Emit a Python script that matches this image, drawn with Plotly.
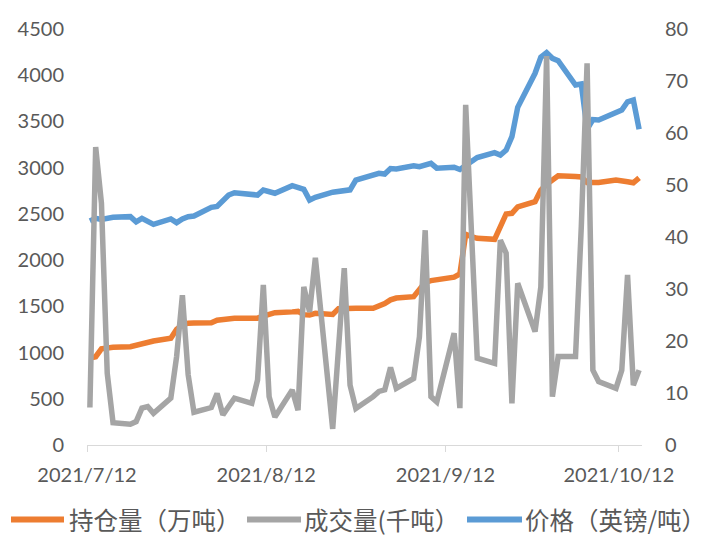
import pandas as pd
import plotly.graph_objects as go

dates = [
    "2021-07-12", "2021-07-13", "2021-07-14", "2021-07-15", "2021-07-16",
    "2021-07-19", "2021-07-20", "2021-07-21", "2021-07-22", "2021-07-23",
    "2021-07-26", "2021-07-27", "2021-07-28", "2021-07-29", "2021-07-30",
    "2021-08-02", "2021-08-03", "2021-08-04", "2021-08-05", "2021-08-06",
    "2021-08-09", "2021-08-10", "2021-08-11", "2021-08-12", "2021-08-13",
    "2021-08-16", "2021-08-17", "2021-08-18", "2021-08-19", "2021-08-20",
    "2021-08-23", "2021-08-24", "2021-08-25", "2021-08-26", "2021-08-27",
    "2021-08-30", "2021-08-31", "2021-09-01", "2021-09-02", "2021-09-03",
    "2021-09-06", "2021-09-07", "2021-09-08", "2021-09-09", "2021-09-10",
    "2021-09-13", "2021-09-14", "2021-09-15", "2021-09-16", "2021-09-17",
    "2021-09-20", "2021-09-21", "2021-09-22", "2021-09-23", "2021-09-24",
    "2021-09-27", "2021-09-28", "2021-09-29", "2021-09-30", "2021-10-01",
    "2021-10-04", "2021-10-05", "2021-10-06", "2021-10-07", "2021-10-08",
    "2021-10-11", "2021-10-12", "2021-10-13", "2021-10-14", "2021-10-15",
]

open_interest = [  # 持仓量（万吨）, left axis
    940, 955, 1040, 1050, 1057,
    1063, 1080, 1100, 1115, 1125,
    1155, 1250, 1300, 1318, 1320,
    1323, 1350, 1355, 1360, 1370,
    1370, 1372, 1395, 1415, 1431,
    1440, 1445, 1410, 1406, 1424,
    1413, 1475, 1479, 1479, 1479,
    1479, 1500, 1530, 1570, 1590,
    1605, 1690, 1760, 1778, 1785,
    1815, 1850, 2280, 2255, 2236,
    2225, 2380, 2499, 2506, 2575,
    2632, 2758, 2820, 2870, 2913,
    2905, 2900, 2840, 2837, 2840,
    2866, 2850, 2848, 2837, 2890,
]

volume = [  # 成交量(千吨）, right axis
    7.2, 57.3, 46.5, 13.8, 4.3,
    4.0, 4.5, 7.1, 7.4, 6.1,
    9.0, 17.0, 28.8, 13.5, 6.3,
    7.2, 9.9, 5.8, 7.4, 9.0,
    8.0, 12.5, 30.8, 9.3, 5.4,
    10.6, 6.7, 30.4, 25.6, 36.0,
    3.1, 18.6, 34.0, 11.5, 7.0,
    9.3, 10.3, 10.6, 14.9, 10.9,
    12.8, 20.8, 41.3, 9.3, 8.3,
    21.5, 7.1, 65.4, 39.1, 16.7,
    15.7, 39.4, 36.9, 8.0, 31.1,
    21.8, 30.4, 74.8, 9.3, 17.0,
    17.0, 42.0, 73.4, 14.4, 12.2,
    10.9, 14.4, 32.7, 11.5, 14.4,
]

price = [  # 价格（英镑/吨）, left axis
    2423, 2452, 2441, 2450, 2463,
    2470, 2415, 2452, 2420, 2387,
    2445, 2405, 2445, 2470, 2477,
    2571, 2580, 2650, 2704, 2729,
    2710, 2704, 2758, 2740, 2723,
    2805, 2785, 2766, 2650, 2680,
    2735, 2748, 2752, 2760, 2866,
    2920, 2939, 2931, 2990, 2986,
    3021, 3010, 3030, 3047, 2995,
    3004, 2980, 3025, 3060, 3110,
    3162, 3137, 3190, 3335, 3653,
    4021, 4194, 4243, 4183, 4157,
    3894, 3905, 3415, 3520, 3516,
    3588, 3624, 3713, 3732, 3415,
]

tick_dates = ["2021-07-12", "2021-08-12", "2021-09-12", "2021-10-12"]
tick_labels = ["2021/7/12", "2021/8/12", "2021/9/12", "2021/10/12"]

names = ["持仓量（万吨）", "成交量(千吨）", "价格（英镑/吨）"]
colors = ["#ED7D31", "#A5A5A5", "#5B9BD5"]

W, H = 706, 538
ML, MR, MT, MB = 87, 64, 29, 93
PW, PH = W - ML - MR, H - MT - MB


def px_x(p):
    return (p - ML) / PW


def px_y(p):
    return (H - MB - p) / PH


# points sit in the middle of each day slot (Excel date axis)
x = pd.to_datetime(dates) + pd.Timedelta(hours=12)

fig = go.Figure()
fig.add_trace(go.Scatter(x=x, y=open_interest, name=names[0], mode="lines",
                         line=dict(color=colors[0], width=5.5), yaxis="y"))
fig.add_trace(go.Scatter(x=x, y=volume, name=names[1], mode="lines",
                         line=dict(color=colors[1], width=5.5), yaxis="y2"))
fig.add_trace(go.Scatter(x=x, y=price, name=names[2], mode="lines",
                         line=dict(color=colors[2], width=5.5), yaxis="y"))

tick_font = dict(family="Lato, 'Noto Sans', sans-serif", size=20, color="#595959")

# legend drawn below the plot (line sample + label for each series)
legend_line_px = [(11, 64), (247, 301), (467, 522)]
legend_text_px = [68, 303, 524]
legend_y_px = 519.5
shapes = []
annotations = []
for i in range(3):
    x0, x1 = legend_line_px[i]
    shapes.append(dict(type="line", xref="paper", yref="paper",
                       x0=px_x(x0), x1=px_x(x1),
                       y0=px_y(legend_y_px), y1=px_y(legend_y_px),
                       line=dict(color=colors[i], width=6)))
    annotations.append(dict(xref="paper", yref="paper",
                            x=px_x(legend_text_px[i]), y=px_y(legend_y_px),
                            xanchor="left", yanchor="middle", showarrow=False,
                            text=names[i], borderpad=0,
                            font=dict(family="'Noto Sans CJK SC', sans-serif",
                                      size=24.5, color="#595959")))

fig.update_layout(
    width=W, height=H,
    margin=dict(l=ML, r=MR, t=MT, b=MB, autoexpand=False),
    paper_bgcolor="white", plot_bgcolor="white",
    font=dict(family="Lato, 'Noto Sans CJK SC', sans-serif", color="#595959"),
    showlegend=False,
    shapes=shapes,
    annotations=annotations,
    xaxis=dict(
        type="date", automargin=False,
        range=["2021-07-12", "2021-10-16"],
        tickvals=pd.to_datetime(tick_dates), ticktext=tick_labels,
        showgrid=False, zeroline=False,
        showline=True, linecolor="#D9D9D9", linewidth=1.3,
        ticks="outside", ticklen=6, tickcolor="#D9D9D9", tickwidth=1.3,
        tickfont=tick_font, ticklabelstandoff=6,
    ),
    yaxis=dict(
        range=[0, 4500], dtick=500, tick0=0, automargin=False,
        showgrid=False, zeroline=False, showline=False,
        ticks="", tickfont=tick_font, ticklabelstandoff=22,
    ),
    yaxis2=dict(
        range=[0, 80], dtick=10, tick0=0, overlaying="y", side="right",
        automargin=False,
        showgrid=False, zeroline=False, showline=False,
        ticks="", tickfont=tick_font, ticklabelstandoff=22,
    ),
)

fig.write_html("out.html",
               config={"displayModeBar": False},
               post_script="document.body.style.margin='0';document.body.style.overflow='hidden';")
